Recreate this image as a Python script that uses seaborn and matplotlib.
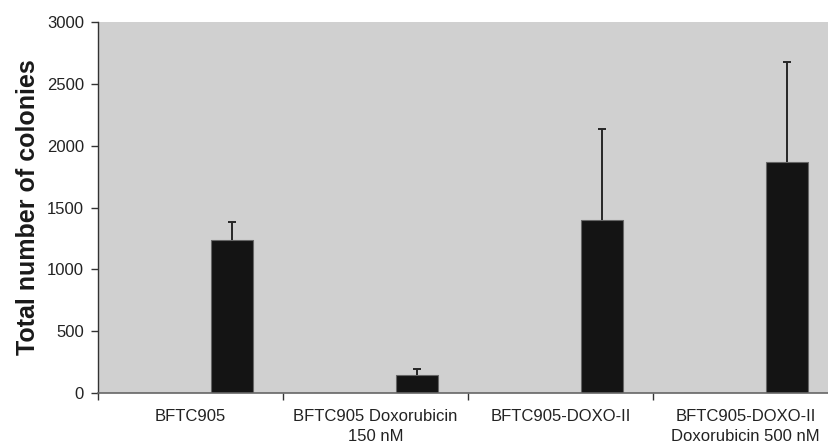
import numpy as np
import pandas as pd
import matplotlib
matplotlib.use("Agg")
import matplotlib.pyplot as plt
import seaborn as sns
from matplotlib.ticker import FixedLocator, NullFormatter, FixedFormatter

categories = ["BFTC905", "BFTC905 Doxorubicin\n150 nM", "BFTC905-DOXO-II",
              "BFTC905-DOXO-II\nDoxorubicin 500 nM"]
means = [1240, 145, 1395, 1865]
errors_up = [145, 47, 737, 808]
yticks = [0, 500, 1000, 1500, 2000, 2500, 3000]

sns.set_theme(style="white")
plt.rcParams['font.family'] = ['Liberation Sans', 'DejaVu Sans']

# Excel-like chart: three series per category, data in the third
rows = []
for c, m in zip(categories, means):
    rows.append({"cat": c, "series": "s1", "val": 0.0})
    rows.append({"cat": c, "series": "s2", "val": 0.0})
    rows.append({"cat": c, "series": "s3", "val": m})
df = pd.DataFrame(rows)

fig = plt.figure(figsize=(8.29, 4.44), dpi=100)
ax = fig.add_axes([98/829, 51/444, 740/829, 371/444])
ax.set_facecolor("#d0d0d0")

sns.barplot(data=df, x="cat", y="val", hue="series", order=categories,
            hue_order=["s1", "s2", "s3"],
            palette=["#141414", "#141414", "#141414"], width=0.675,
            errorbar=None, legend=False, ax=ax, edgecolor="#666666",
            linewidth=0.8, saturation=1)

xpos = np.arange(len(categories)) + 0.225
_, caps, _ = ax.errorbar(xpos, means, yerr=[np.zeros(len(means)), errors_up],
                         fmt="none", ecolor="#262626", elinewidth=1.4,
                         capsize=2.9, capthick=1.4, zorder=3)
caps[0].set_visible(False)

ax.set_xlim(-0.5, len(categories) - 0.5)
ax.set_ylim(0, 3000)
ax.set_yticks(yticks)
ax.set_yticklabels([str(t) for t in yticks], fontsize=12, color="#222222")

ax.xaxis.set_major_locator(FixedLocator(np.arange(len(categories) + 1) - 0.5))
ax.xaxis.set_major_formatter(NullFormatter())
ax.xaxis.set_minor_locator(FixedLocator(np.arange(len(categories))))
ax.xaxis.set_minor_formatter(FixedFormatter(categories))
ax.tick_params(axis="x", which="major", length=5, width=1, color="#333333",
               direction="out", bottom=True)
ax.tick_params(axis="x", which="minor", length=0, pad=11.5, labelsize=12,
               labelcolor="#222222", bottom=True)
ax.tick_params(axis="y", length=5, width=1, color="#333333", direction="out",
               left=True, pad=5)
for lab in ax.xaxis.get_minorticklabels():
    lab.set_horizontalalignment("center")
    lab.set_multialignment("center")
    lab.set_linespacing(1.45)

ax.set_xlabel("")
ax.set_ylabel("Total number of colonies", fontsize=18, fontweight="bold",
              color="#1a1a1a", labelpad=5)

for s in ["top", "right"]:
    ax.spines[s].set_visible(False)
ax.spines["left"].set_color("#333333")
ax.spines["bottom"].set_color("#666666")
ax.spines["left"].set_linewidth(1.0)
ax.spines["bottom"].set_linewidth(1.2)

fig.savefig("out.png", dpi=100)
